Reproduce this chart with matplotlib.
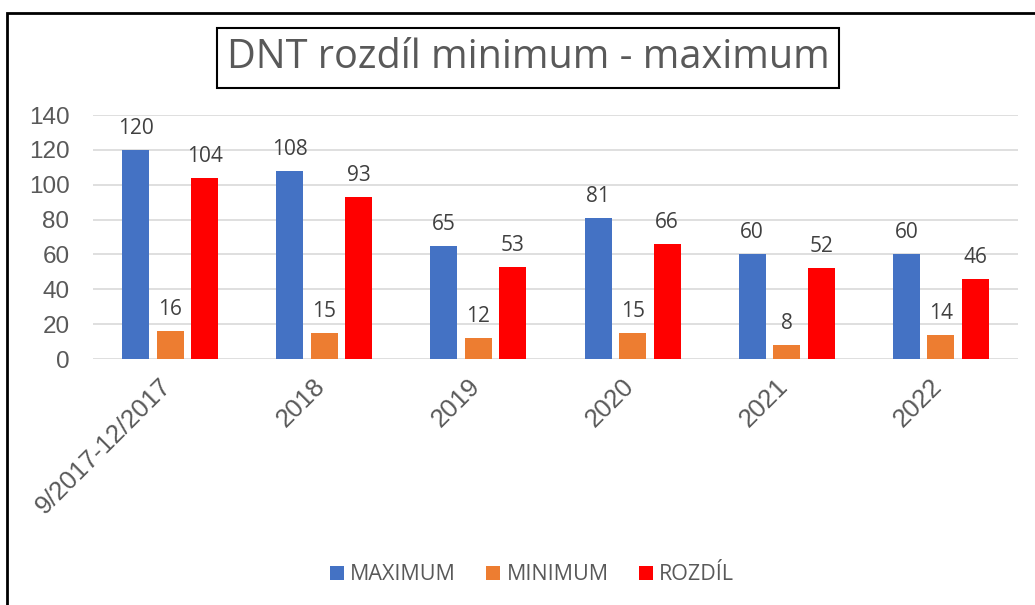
import matplotlib.pyplot as plt
import numpy as np
from matplotlib.patches import Rectangle
from matplotlib.transforms import ScaledTranslation

plt.rcParams['font.family'] = ['Liberation Sans', 'DejaVu Sans']

# data
categories = ['9/2017-12/2017', '2018', '2019', '2020', '2021', '2022']
maximum = [120, 108, 65, 81, 60, 60]
minimum = [16, 15, 12, 15, 8, 14]
rozdil = [104, 93, 53, 66, 52, 46]
series_names = ['MAXIMUM', 'MINIMUM', 'ROZDÍL']
colors = ['#4472C4', '#ED7D31', '#FF0000']

W, H = 1035, 605
fig = plt.figure(figsize=(W / 100, H / 100), dpi=100)
ax = fig.add_axes([93 / W, 1 - 359 / H, (1018 - 93) / W, (359 - 115) / H])

x = np.arange(len(categories))
step = 0.224
width = 0.175
for i, (vals, name, c) in enumerate(zip([maximum, minimum, rozdil], series_names, colors)):
    bars = ax.bar(x + (i - 1) * step, vals, width, color=c, label=name, zorder=3)
    for b, v in zip(bars, vals):
        ax.annotate(str(v), (b.get_x() + b.get_width() / 2, v),
                    xytext=(0, 11.5), textcoords='offset points',
                    ha='center', va='baseline', fontsize=15,
                    family='Open Sans', color='#404040')

ax.set_xlim(-0.5, len(categories) - 0.5)
ax.set_ylim(0, 140)
ax.set_yticks(range(0, 141, 20))
ax.grid(axis='y', color='#d9d9d9', lw=1.2, zorder=0)
for s in ax.spines.values():
    s.set_visible(False)
ax.tick_params(axis='both', length=0, labelsize=17.5, labelcolor='#595959')
ax.tick_params(axis='y', pad=17)
ax.set_xticks(x)
ax.set_xticklabels(categories, rotation=45, ha='right', va='top', fontsize=18.5)
ax.tick_params(axis='x', pad=11)
shift = ScaledTranslation(6 / 100, 0, fig.dpi_scale_trans)
for lab in ax.get_xticklabels():
    lab.set_transform(lab.get_transform() + shift)

# title in box
fig.text(528 / W, 1 - 58 / H, 'DNT rozdíl minimum - maximum', ha='center', va='center',
         fontsize=28.5, family='Open Sans', color='#595959',
         bbox=dict(boxstyle='square,pad=0.25', fc='white', ec='black', lw=1.5))

leg = fig.legend(loc='center', bbox_to_anchor=(532 / W, 1 - 575 / H), ncol=3,
                 frameon=False, handlelength=0.65, handleheight=0.65,
                 handletextpad=0.3, columnspacing=1.4,
                 prop={'family': 'Open Sans', 'size': 15.5})
for t in leg.get_texts():
    t.set_color('#595959')

# outer chart frame (only left and top visible)
fig.add_artist(Rectangle((7 / W, -0.1), 1.2, 1.1 - 13 / H, transform=fig.transFigure,
                         fill=False, ec='black', lw=2))

fig.savefig('out.png', dpi=100)
